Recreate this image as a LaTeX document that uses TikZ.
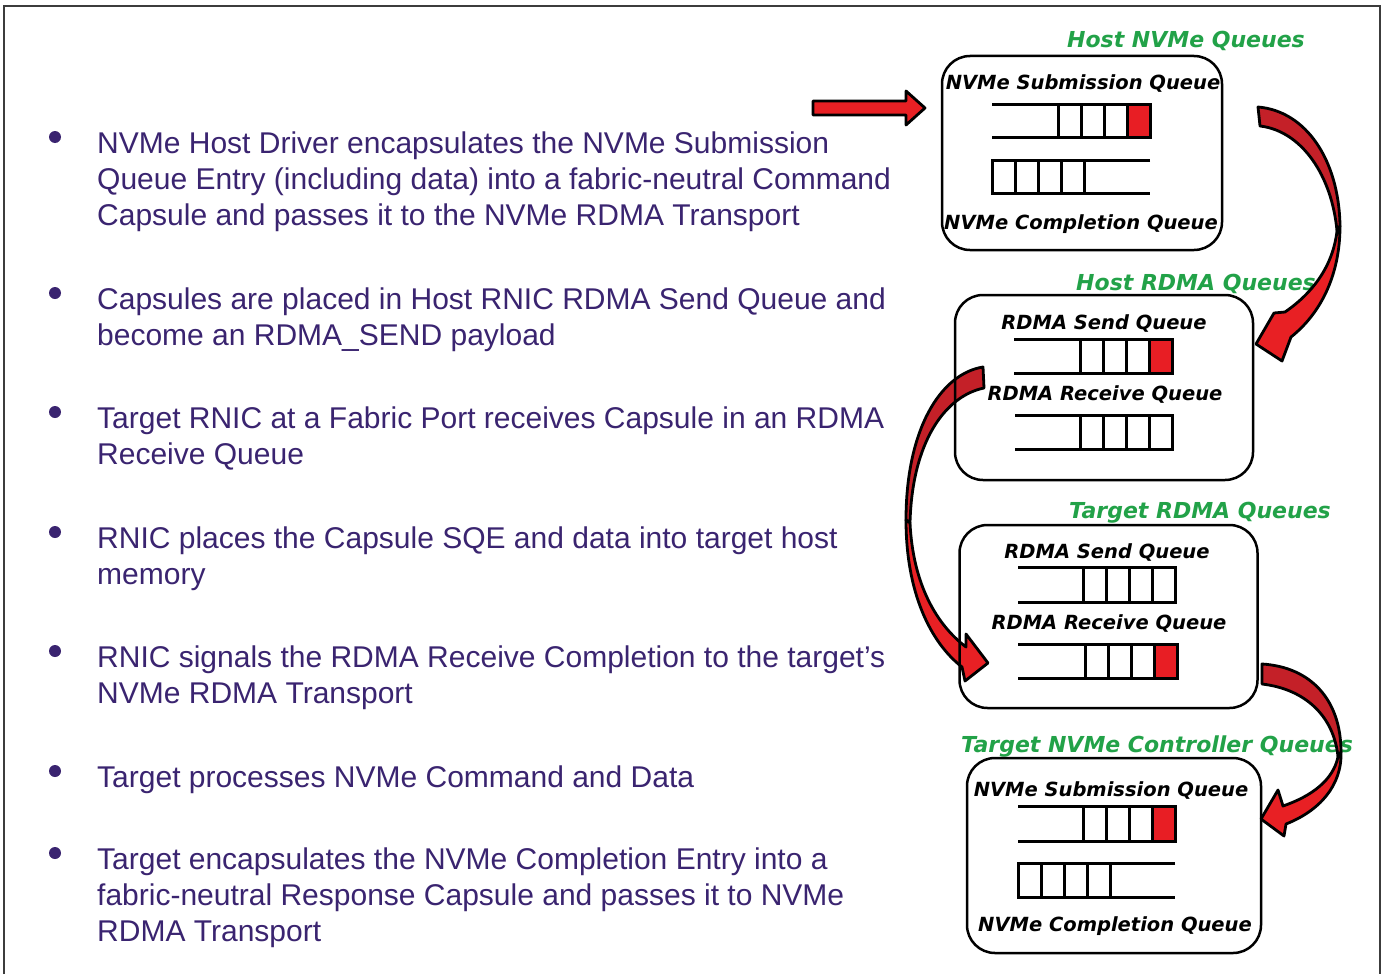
\documentclass[tikz,border=0pt]{standalone}
\usepackage{fontspec}
\setmainfont{Liberation Sans}
\newfontfamily\qfont[BoldItalicFont={DejaVu Sans Bold Oblique}]{DejaVu Sans}

\definecolor{txtpurple}{RGB}{58,36,112}
\definecolor{titlegreen}{RGB}{34,162,72}
\definecolor{qred}{RGB}{232,30,36}
\definecolor{arrowdark}{RGB}{196,32,40}
\definecolor{arrowbright}{RGB}{232,32,36}
\definecolor{framegray}{RGB}{60,60,60}

\tikzset{
  body/.style={anchor=base west, inner sep=0, text=txtpurple,
    font=\fontsize{30}{36}\selectfont},
  bulletdot/.style={circle, fill=txtpurple, inner sep=0, minimum size=12},
  qlabel/.style={anchor=base, inner sep=0,
    font=\qfont\bfseries\itshape\fontsize{19.5}{22}\selectfont},
  grouptitle/.style={anchor=base, inner sep=0, text=titlegreen,
    font=\qfont\bfseries\itshape\fontsize{22}{26}\selectfont},
  qbox/.style={draw=black, line width=2.5, rounded corners=28, inner sep=0},
  qline/.style={draw=black, line width=3},
  blockarrow/.style={draw=black, line width=2.8, line join=round},
}

% queue closed on the right: #1 left x, #2 right x, #3 top y, #4 bottom y, #5 = 1 for a filled head cell
\newcommand\queueopenleft[5]{%
  \ifnum#5=1 \fill[qred] (#2-23,#3) rectangle (#2,#4);\fi
  \draw[qline] (#1,#3) -- (#2,#3) -- (#2,#4) -- (#1,#4);
  \foreach \k in {1,...,4}{\draw[qline] (#2-23*\k,#3) -- (#2-23*\k,#4);}
}
% queue closed on the left: #1 left x, #2 right x, #3 top y, #4 bottom y
\newcommand\queueopenright[4]{%
  \draw[qline] (#2,#3) -- (#1,#3) -- (#1,#4) -- (#2,#4);
  \foreach \k in {1,...,4}{\draw[qline] (#1+23*\k,#3) -- (#1+23*\k,#4);}
}

\begin{document}
\begin{tikzpicture}[x=1pt,y=-1pt]
\useasboundingbox (0,0) rectangle (1383,974);
\fill[white] (0,0) rectangle (1383,974);

% frame
\draw[framegray, line width=2] (4,974) -- (4,6) -- (1380,6) -- (1380,974);

% bullet list
\node[bulletdot] (b1) at (55,137) {};
\node[body] (l1a) at (97,153) {NVMe Host Driver encapsulates the NVMe Submission};
\node[body] (l1b) at (97,189) {Queue Entry (including data) into a fabric-neutral Command};
\node[body] (l1c) at (97,225) {Capsule and passes it to the NVMe RDMA Transport};

\node[bulletdot] (b2) at (55,293) {};
\node[body] (l2a) at (97,309) {Capsules are placed in Host RNIC RDMA Send Queue and};
\node[body] (l2b) at (97,345) {become an RDMA\_SEND payload};

\node[bulletdot] (b3) at (55,412) {};
\node[body] (l3a) at (97,428) {Target RNIC at a Fabric Port receives Capsule in an RDMA};
\node[body] (l3b) at (97,464) {Receive Queue};

\node[bulletdot] (b4) at (55,532) {};
\node[body] (l4a) at (97,548) {RNIC places the Capsule SQE and data into target host};
\node[body] (l4b) at (97,584) {memory};

\node[bulletdot] (b5) at (55,651) {};
\node[body] (l5a) at (97,667) {RNIC signals the RDMA Receive Completion to the target’s};
\node[body] (l5b) at (97,703) {NVMe RDMA Transport};

\node[bulletdot] (b6) at (55,771) {};
\node[body] (l6a) at (97,787) {Target processes NVMe Command and Data};

\node[bulletdot] (b7) at (55,853) {};
\node[body] (l7a) at (97,869) {Target encapsulates the NVMe Completion Entry into a};
\node[body] (l7b) at (97,905) {fabric-neutral Response Capsule and passes it to NVMe};
\node[body] (l7c) at (97,941) {RDMA Transport};

% group titles
\node[grouptitle] (g1) at (1186,48) {Host NVMe Queues};
\node[grouptitle] (g2) at (1196,290) {Host RDMA Queues};
\node[grouptitle] (g3) at (1200,518) {Target RDMA Queues};
\node[grouptitle] (g4) at (1157,752) {Target NVMe Controller Queues};

% queue labels
\node[qlabel] (h1s) at (1083,89) {NVMe Submission Queue};
\node[qlabel] (h1c) at (1081,229) {NVMe Completion Queue};
\node[qlabel] (h2s) at (1104,329) {RDMA Send Queue};
\node[qlabel] (h2r) at (1105,400) {RDMA Receive Queue};
\node[qlabel] (t3s) at (1107,558) {RDMA Send Queue};
\node[qlabel] (t3r) at (1109,629) {RDMA Receive Queue};
\node[qlabel] (t4s) at (1111,796) {NVMe Submission Queue};
\node[qlabel] (t4c) at (1115,931) {NVMe Completion Queue};

% queues
\queueopenleft{992}{1150}{104}{137}{1}
\queueopenright{992}{1150}{160}{193}
\queueopenleft{1014}{1172}{339}{373}{1}
\queueopenleft{1015}{1172}{415}{449}{0}
\queueopenleft{1018}{1175}{567}{602}{0}
\queueopenleft{1018}{1177}{644}{678}{1}
\queueopenleft{1018}{1175}{806}{841}{1}
\queueopenright{1018}{1175}{863}{897}

% straight arrow into the host submission queue
\filldraw[blockarrow, fill=arrowbright]
  (813,101) -- (906,101) -- (906,91) -- (925,108) -- (906,125) -- (906,115) -- (813,115) -- cycle;

% host NVMe -> host RDMA
\filldraw[blockarrow, fill=arrowdark]
  (1258,107) .. controls (1306,111) and (1339,160) .. (1340,226)
  -- (1337,231) .. controls (1332,176) and (1302,131) .. (1260,126) -- cycle;
\filldraw[blockarrow, fill=arrowbright]
  (1340,226) .. controls (1340,276) and (1320,314) .. (1291,337)
  -- (1282,361) -- (1256,344) -- (1274,313) -- (1285,312)
  .. controls (1314,292) and (1333,265) .. (1337,231) -- cycle;

% host RDMA -> target RDMA
\filldraw[blockarrow, fill=arrowdark]
  (983,367) .. controls (940,374) and (906,430) .. (906,520)
  -- (910,523) .. controls (912,442) and (945,396) .. (984,388) -- cycle;
\filldraw[blockarrow, fill=arrowbright]
  (906,520) .. controls (906,592) and (930,642) .. (962,667)
  -- (965,681) -- (988,663) -- (966,634) -- (966,647)
  .. controls (937,625) and (913,585) .. (910,523) -- cycle;

% target RDMA -> target NVMe controller
\filldraw[blockarrow, fill=arrowdark]
  (1262,664) .. controls (1311,667) and (1341,700) .. (1341,752)
  -- (1338,757) .. controls (1334,716) and (1305,689) .. (1262,684) -- cycle;
\filldraw[blockarrow, fill=arrowbright]
  (1341,752) .. controls (1342,786) and (1319,811) .. (1286,824)
  -- (1284,836) -- (1261,819) -- (1278,790) -- (1283,806)
  .. controls (1312,796) and (1333,780) .. (1338,757) -- cycle;

% queue group boxes
\node[qbox, minimum width=280, minimum height=194] (hostnvme) at (1082,153) {};
\node[qbox, minimum width=298, minimum height=185] (hostrdma) at (1104,387.5) {};
\node[qbox, minimum width=298, minimum height=183] (targetrdma) at (1108.5,616.5) {};
\node[qbox, minimum width=294, minimum height=195] (targetnvme) at (1114,855.5) {};
\end{tikzpicture}
\end{document}
